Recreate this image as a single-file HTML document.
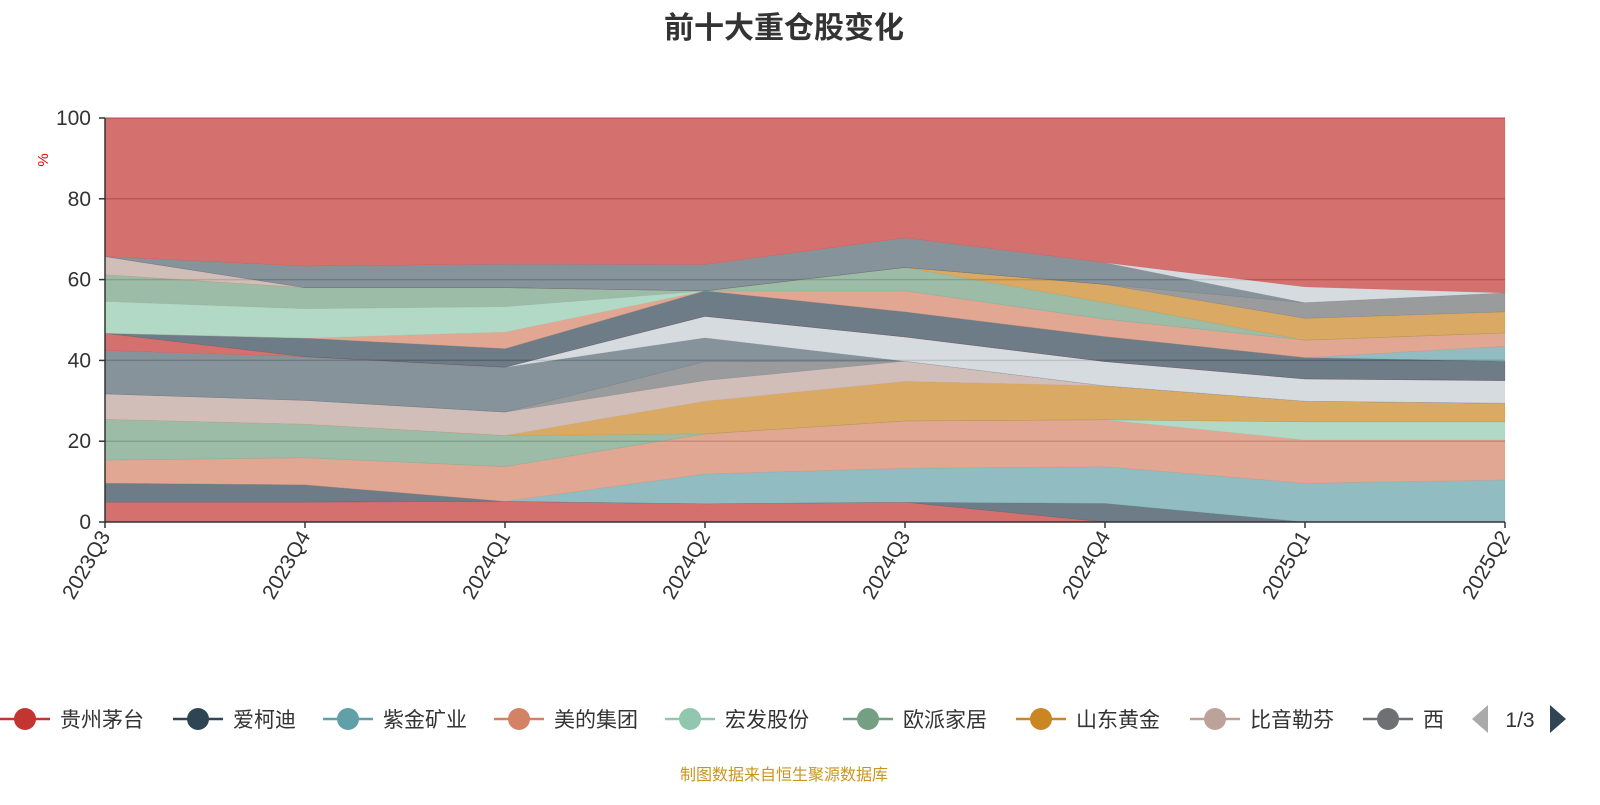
<!DOCTYPE html>
<html><head><meta charset="utf-8"><style>
body{margin:0;background:#fff;width:1600px;height:800px;overflow:hidden;font-family:"Liberation Sans","Noto Sans CJK SC",sans-serif}
</style></head><body>
<svg id="chart" width="1600" height="800" xmlns="http://www.w3.org/2000/svg">
<text x="784" y="38" text-anchor="middle" font-size="30" font-weight="bold" fill="#333" font-family="Liberation Sans,Noto Sans CJK SC,sans-serif">前十大重仓股变化</text>
<g id="grid"></g>
<g id="areas"></g>
<g id="axes"></g>
<text transform="translate(48,160) rotate(-90)" text-anchor="middle" font-size="15" fill="#e00">%</text>
<g id="legend"></g>
<text x="784" y="780" text-anchor="middle" font-size="16" fill="#c8961e" font-family="Liberation Sans,Noto Sans CJK SC,sans-serif">制图数据来自恒生聚源数据库</text>
</svg>
<script>
const categories=["2023Q3","2023Q4","2024Q1","2024Q2","2024Q3","2024Q4","2025Q1","2025Q2"];
const yTicks=[0,20,40,60,80,100];
const seriesNames=["贵州茅台","爱柯迪","紫金矿业","美的集团","宏发股份","欧派家居","山东黄金","比音勒芬","西部矿业","持仓10","持仓11","持仓12","持仓13","持仓14","持仓15","持仓16","持仓17","持仓18","持仓19","持仓20","持仓21","持仓22","其他"];
const s1=[4.9,4.9,5.1,4.5,4.9,0,0,0];
const s2=[4.7,4.3,0,0,0,4.6,0,0];
const s3=[0,0,0,7.4,8.4,9.1,9.6,10.4];
const s4=[5.7,6.7,8.6,9.9,11.7,11.6,10.7,9.9];
const s5=[0,0,0,0,0,0,4.5,4.5];
const s6=[10.1,8.3,7.7,0,0,0,0,0];
const s7=[0,0,0,8.1,9.8,8.4,5.1,4.6];
const s8=[6.3,5.9,5.8,5.1,5.0,0,0,0];
const s9=[0,0,0,4.7,0,0,0,0];
const s10=[10.7,10.8,11.1,5.9,0,0,0,0];
const s11=[0,0,0,5.3,6.0,6.0,5.5,5.6];
const s12=[4.3,0,0,0,0,0,0,0];
const s13=[0,4.6,4.6,6.3,6.2,6.2,5.3,4.8];
const s14=[0,0,0,0,0,0,0,3.7];
const s15=[0,0,4.1,0,5.2,4.3,4.3,3.3];
const s16=[7.9,7.3,6.3,0,0,0,0,0];
const s17=[6.6,5.2,4.7,0,5.8,4.1,0,0];
const s18=[0,0,0,0,0,4.5,5.4,5.2];
const s19=[4.5,0,0,0,0,0,0,0];
const s20=[0,0,0,0,0,0,3.9,4.7];
const s21=[0,5.3,5.8,6.5,7.3,5.4,0,0];
const s22=[0,0,0,0,0,0,3.9,0];
const s23=[34.3,36.7,36.2,36.3,29.7,35.8,41.8,43.3];
const seriesValues=[s1,s2,s3,s4,s5,s6,s7,s8,s9,s10,s11,s12,s13,s14,s15,s16,s17,s18,s19,s20,s21,s22,s23];
const palette=['#c23531','#2f4554','#61a0a8','#d48265','#91c7ae','#749f83','#ca8622','#bda29a','#6e7074','#546570','#c4ccd3'];
const NS="http://www.w3.org/2000/svg";
const X0=105,X1=1505,Y0=522,Y1=118;
const xS=i=>X0+i*(X1-X0)/(categories.length-1);
const yS=v=>Y0-Math.min(v,100)/100*(Y0-Y1);
function mk(t,a,p){const e=document.createElementNS(NS,t);for(const k in a)e.setAttribute(k,a[k]);p.appendChild(e);return e;}
const grid=document.getElementById('grid');
yTicks.forEach(t=>{if(t>0){const l=mk('line',{x1:X0,x2:X1,y1:yS(t),y2:yS(t),stroke:'#aaa','stroke-width':1.5},grid);

}});
const areas=document.getElementById('areas');
let base=categories.map(()=>0);
seriesValues.forEach((vals,si)=>{
  const top=base.map((b,i)=>b+vals[i]);
  let pts=top.map((v,i)=>xS(i)+','+yS(v));
  for(let i=categories.length-1;i>=0;i--)pts.push(xS(i)+','+yS(base[i]));
  const c=palette[si%palette.length];
  const p=mk('polygon',{points:pts.join(' '),fill:c,'fill-opacity':0.7,stroke:c,'stroke-opacity':0.3,'stroke-width':0.5},areas);
  
  
  base=top;
});
const axes=document.getElementById('axes');
const ya=mk('line',{x1:X0,x2:X0,y1:Y1,y2:Y0,stroke:'#333','stroke-width':1.5},axes);


const xa=mk('line',{x1:X0,x2:X1,y1:Y0,y2:Y0,stroke:'#333','stroke-width':1.5},axes);


yTicks.forEach(t=>{
  mk('line',{x1:X0-6,x2:X0,y1:yS(t),y2:yS(t),stroke:'#333','stroke-width':1.5},axes);
  const tx=mk('text',{x:X0-14,y:yS(t)+7,'text-anchor':'end','font-size':21,fill:'#333'},axes);
  tx.textContent=t;
  
  
});
categories.forEach((c,i)=>{
  const x=xS(i);
  mk('line',{x1:x,x2:x,y1:Y0,y2:Y0+6,stroke:'#333','stroke-width':1.5},axes);
  const tx=mk('text',{transform:`translate(${x+6},${Y0+14}) rotate(-60)`,'text-anchor':'end','font-size':21,fill:'#333'},axes);
  tx.textContent=c;
  
  
});
const legend=document.getElementById('legend');
const lx=[2,175,325,496,667,845,1018,1192,1365];
const clip=mk('clipPath',{id:'lgclip'},mk('defs',{},legend));
mk('rect',{x:0,y:690,width:1443,height:60},clip);
const lg=mk('g',{'clip-path':'url(#lgclip)'},legend);
lx.forEach((x,i)=>{
  const c=palette[i];
  const g=mk('g',{},lg);
  
  
  mk('line',{x1:x-2,x2:x+48,y1:719,y2:719,stroke:c,'stroke-width':2.5},g);
  mk('circle',{cx:x+23,cy:719,r:11,fill:c},g);
  const t=mk('text',{x:x+58,y:727,'font-size':21,fill:'#333'},g);
  t.textContent=seriesNames[i];
});
const pl=mk('polygon',{points:'1472,719 1488,705 1488,733',fill:'#aaa'},legend);


const pt=mk('text',{x:1520,y:727,'text-anchor':'middle','font-size':21,fill:'#333'},legend);
pt.textContent='1/3';


const pn=mk('polygon',{points:'1566,719 1550,705 1550,733',fill:'#2f4554'},legend);


</script>
</body></html>
